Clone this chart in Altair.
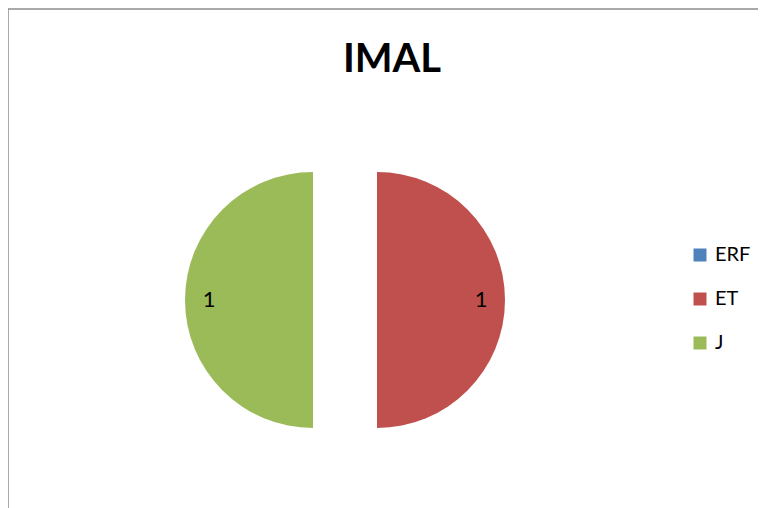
import altair as alt
import pandas as pd

categories = ["ERF", "ET", "J"]
values = [0, 1, 1]
colors = ["#4F81BD", "#C0504D", "#9BBB59"]

df = pd.DataFrame({"cat": categories, "val": values})

W, H = 750, 500
CX, CY = 337, 292
R = 128
explode = 32

base = alt.Chart(df)

pie = base.mark_arc(
    outerRadius=R,
    xOffset=alt.expr(f"datum.cat == 'J' ? {-explode} : {explode}"),
).encode(
    theta=alt.Theta("val:Q", stack=True),
    color=alt.Color(
        "cat:N",
        scale=alt.Scale(domain=categories, range=colors),
        legend=alt.Legend(
            title=None,
            orient="none",
            legendX=682,
            legendY=237,
            symbolType="square",
            symbolSize=169,
            symbolStrokeWidth=0,
            labelFontSize=20,
            labelFont="Lato",
            labelColor="#000000",
            rowPadding=24,
            labelOffset=5,
        ),
    ),
    x=alt.value(CX),
    y=alt.value(CY),
)

labels = base.mark_text(
    radius=104,
    fontSize=22,
    font="Lato",
    color="#000000",
    xOffset=alt.expr(f"datum.cat == 'J' ? {-explode} : {explode}"),
).encode(
    theta=alt.Theta("val:Q", stack=True),
    detail="cat:N",
    text=alt.Text("val:Q"),
    x=alt.value(CX),
    y=alt.value(CY),
).transform_filter("datum.val > 0")

border_df = pd.DataFrame({"k": [0]})
top_line = alt.Chart(border_df).mark_rule(color="#8c8c8c", strokeWidth=1.5).encode(
    x=alt.value(0), x2=alt.value(W), y=alt.value(1)
)
left_line = alt.Chart(border_df).mark_rule(color="#8c8c8c", strokeWidth=1.5).encode(
    x=alt.value(0), y=alt.value(1), y2=alt.value(H)
)

chart = alt.layer(top_line, left_line, pie, labels).properties(
    width=W,
    height=H,
    padding=0,
    autosize=alt.AutoSizeParams(type="none"),
    title=alt.TitleParams(
        "IMAL",
        fontSize=40,
        font="Lato",
        fontWeight="bold",
        color="#000000",
        anchor="middle",
        offset=-72,
        dx=9,
    ),
).configure_view(stroke=None)

chart.save("out.html", embed_options={"renderer": "svg", "actions": False})
